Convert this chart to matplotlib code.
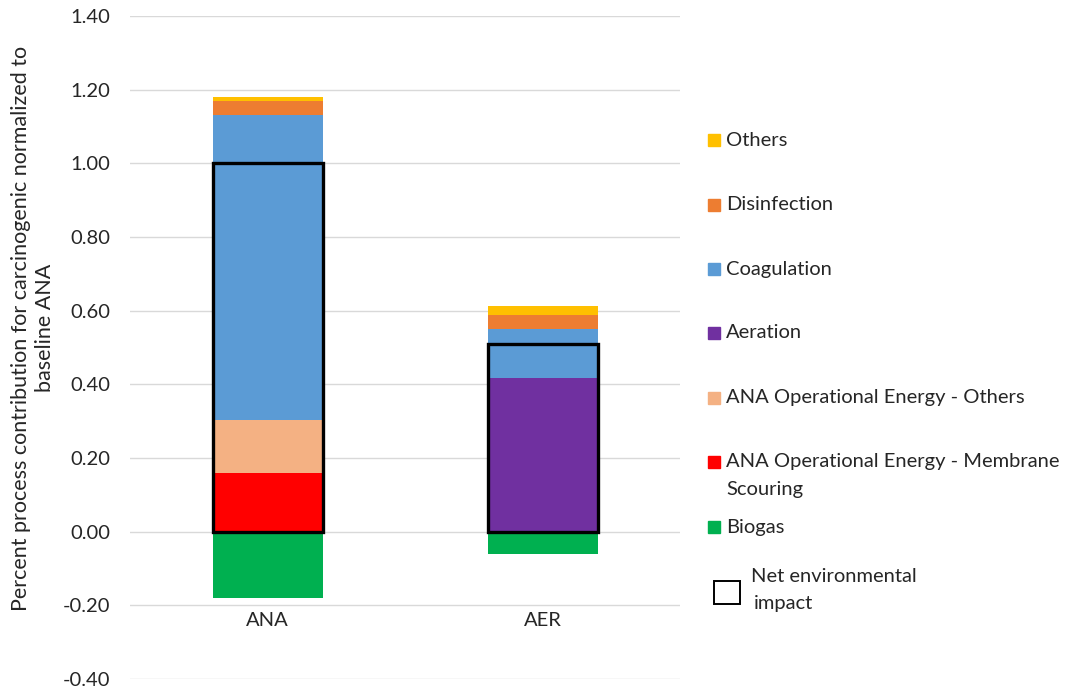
import matplotlib
matplotlib.use("Agg")
import matplotlib.pyplot as plt
from matplotlib.patches import Rectangle

categories = ["ANA", "AER"]

# Stacked process contributions (positive stack, bottom to top)
membrane_scouring = [0.160, 0.0]
ana_energy_others = [0.144, 0.0]
aeration = [0.0, 0.418]
coagulation = [0.827, 0.132]
disinfection = [0.039, 0.039]
others = [0.011, 0.024]

# Negative contribution
biogas = [-0.179, -0.060]

# Net environmental impact
net_impact = [1.00, 0.51]

series = [
    ("ANA Operational Energy - Membrane\nScouring", membrane_scouring, "#FF0000"),
    ("ANA Operational Energy - Others", ana_energy_others, "#F4B183"),
    ("Aeration", aeration, "#7030A0"),
    ("Coagulation", coagulation, "#5B9BD5"),
    ("Disinfection", disinfection, "#ED7D31"),
    ("Others", others, "#FFC000"),
]
biogas_color = "#00B050"

plt.rcParams["font.family"] = ["Lato", "DejaVu Sans"]
FS = 14.5
TXT = "#262626"

W, H = 1066, 690
fig = plt.figure(figsize=(W / 100, H / 100), dpi=100)
ax = fig.add_axes([130 / W, 1 - 679 / H, 550 / W, (679 - 16) / H])

x = list(range(len(categories)))
width = 0.4

bottoms = [0.0] * len(categories)
for name, vals, color in series:
    ax.bar(x, vals, width, bottom=bottoms, color=color, linewidth=0, zorder=2)
    bottoms = [b + v for b, v in zip(bottoms, vals)]

ax.bar(x, biogas, width, color=biogas_color, linewidth=0, zorder=2)

# Outline showing the net impact
ax.bar(x, net_impact, width, fill=False, edgecolor="black", linewidth=2.4, zorder=3)

ax.set_xlim(-0.5, 1.5)
ax.set_ylim(-0.40, 1.40)
yt = [i / 100 for i in range(-40, 141, 20)]
ax.set_yticks(yt)
ax.set_yticklabels([f"{v:.2f}" for v in yt], fontsize=FS, color=TXT)
ax.tick_params(axis="y", length=0, pad=14.4)
ax.set_xticks([])
ax.grid(axis="y", color="#d9d9d9", linewidth=1.0, zorder=0)
for s in ax.spines.values():
    s.set_visible(False)

for xi, cat in zip(x, categories):
    ax.text(xi, -0.24, cat, ha="center", va="center", fontsize=FS, color=TXT)

fig.text(33 / W, 1 - 328 / H,
         "Percent process contribution for carcinogenic normalized to\nbaseline ANA",
         rotation=90, ha="center", va="center", multialignment="center",
         fontsize=15.5, color=TXT, linespacing=1.3)

# Legend drawn entry by entry
legend_entries = [
    ("Others", "#FFC000", 140),
    ("Disinfection", "#ED7D31", 205),
    ("Coagulation", "#5B9BD5", 269),
    ("Aeration", "#7030A0", 333),
    ("ANA Operational Energy - Others", "#F4B183", 398),
    ("ANA Operational Energy - Membrane", "#FF0000", 462),
    ("Biogas", "#00B050", 527),
]
for label, color, py in legend_entries:
    fig.patches.append(Rectangle((708 / W, 1 - (py + 6) / H), 12 / W, 12 / H,
                                 transform=fig.transFigure, color=color, figure=fig))
    fig.text(726 / W, 1 - py / H, label, fontsize=FS, va="center", ha="left", color=TXT)
fig.text(726 / W, 1 - 490 / H, "Scouring", fontsize=FS, va="center", ha="left", color=TXT)

fig.patches.append(Rectangle((714 / W, 1 - 604 / H), 26 / W, 23 / H, transform=fig.transFigure,
                             fill=False, edgecolor="black", linewidth=1.4, figure=fig))
fig.text(751 / W, 1 - 577 / H, "Net environmental", fontsize=FS, va="center", ha="left", color=TXT)
fig.text(754 / W, 1 - 604 / H, "impact", fontsize=FS, va="center", ha="left", color=TXT)

fig.savefig("out.png", dpi=100)
